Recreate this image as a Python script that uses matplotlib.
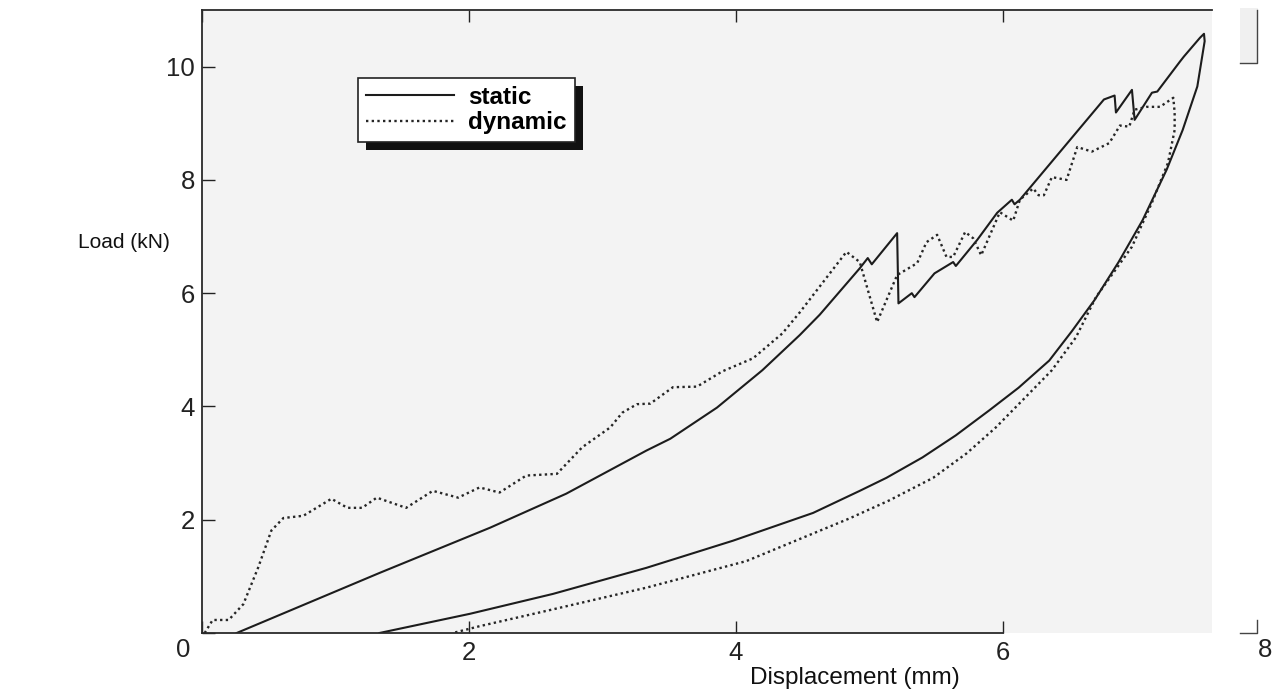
import matplotlib
matplotlib.use('Agg')
import matplotlib.pyplot as plt
from matplotlib.patches import Rectangle
from matplotlib.lines import Line2D

# ---------------- data ----------------
static_load_x = [0.26, 1.33, 2.16, 2.73, 3.33, 3.51, 3.86, 4.20, 4.48, 4.63, 4.93, 4.99,
                 5.02, 5.21, 5.22, 5.32, 5.34, 5.49, 5.63, 5.65, 5.81, 5.96, 6.07, 6.09,
                 6.13, 6.76, 6.84, 6.85, 6.97, 6.99, 7.12, 7.16, 7.33, 7.36, 7.48, 7.51]
static_load_y = [0.00, 1.06, 1.86, 2.46, 3.22, 3.43, 3.98, 4.64, 5.26, 5.62, 6.44, 6.62,
                 6.51, 7.06, 5.82, 6.00, 5.93, 6.35, 6.55, 6.48, 6.94, 7.42, 7.65, 7.57,
                 7.65, 9.42, 9.49, 9.19, 9.59, 9.06, 9.54, 9.56, 10.09, 10.18, 10.51, 10.58]

static_unload_x = [7.515, 7.46, 7.35, 7.23, 7.05, 6.87, 6.69, 6.52, 6.35, 6.12, 5.90,
                   5.65, 5.40, 5.13, 4.93, 4.58, 3.98, 3.33, 2.63, 2.01, 1.33]
static_unload_y = [10.45, 9.65, 8.88, 8.18, 7.29, 6.55, 5.88, 5.33, 4.81, 4.33, 3.93,
                   3.49, 3.10, 2.74, 2.51, 2.12, 1.63, 1.15, 0.69, 0.34, 0.00]

dynamic_load_x = [0.02, 0.08, 0.20, 0.31, 0.42, 0.52, 0.61, 0.76, 0.97, 1.09, 1.20, 1.31,
                  1.53, 1.73, 1.92, 2.08, 2.23, 2.43, 2.66, 2.85, 3.06, 3.15, 3.26, 3.36,
                  3.53, 3.71, 3.90, 4.13, 4.35, 4.48, 4.83, 4.93, 5.06, 5.21, 5.36, 5.43,
                  5.51, 5.58, 5.63, 5.72, 5.78, 5.84, 5.98, 6.08, 6.13, 6.23, 6.27, 6.31,
                  6.37, 6.48, 6.56, 6.67, 6.80, 6.88, 6.95, 6.99, 7.08, 7.18, 7.28]
dynamic_load_y = [0.00, 0.23, 0.23, 0.51, 1.15, 1.81, 2.03, 2.07, 2.37, 2.21, 2.21, 2.39,
                  2.21, 2.51, 2.39, 2.57, 2.48, 2.78, 2.81, 3.28, 3.63, 3.89, 4.04, 4.05,
                  4.34, 4.35, 4.62, 4.85, 5.29, 5.66, 6.73, 6.55, 5.49, 6.32, 6.53, 6.90,
                  7.03, 6.64, 6.64, 7.08, 6.97, 6.67, 7.43, 7.28, 7.65, 7.85, 7.73, 7.73,
                  8.05, 8.00, 8.58, 8.50, 8.65, 8.96, 8.94, 9.24, 9.29, 9.29, 9.45]

dynamic_unload_x = [7.29, 7.29, 7.24, 7.12, 6.97, 6.70, 6.55, 6.37, 6.15, 5.95, 5.73,
                    5.48, 5.15, 4.85, 4.08, 3.33, 2.58, 2.08, 1.88]
dynamic_unload_y = [9.19, 8.88, 8.30, 7.60, 6.82, 5.93, 5.22, 4.64, 4.11, 3.63, 3.17,
                    2.74, 2.34, 2.02, 1.27, 0.80, 0.39, 0.12, 0.00]

x_ticks = [0, 2, 4, 6]
x_tick_labels = ['', '2', '4', '6']
y_ticks = [0, 2, 4, 6, 8, 10]
y_tick_labels = ['', '2', '4', '6', '8', '10']
series_labels = ['static', 'dynamic']
x_label = 'Displacement (mm)'
y_label = 'Load (kN)'

# ---------------- figure ----------------
plt.rcParams['font.family'] = ['Liberation Sans', 'DejaVu Sans']

W, H = 1275, 694
fig = plt.figure(figsize=(W / 100, H / 100), dpi=100)
fig.patch.set_facecolor('white')

def fx(px):
    return px / W

def fy(py):
    return (H - py) / H

ax = fig.add_axes([fx(202), fy(633), (1212 - 202) / W, (633 - 10) / H])
ax.set_facecolor('#f3f3f3')
ax.set_xlim(0, 7.57)
ax.set_ylim(0, 11.0)

ax.plot(static_load_x + static_unload_x, static_load_y + static_unload_y,
        color='#1c1c1c', lw=1.5, label=series_labels[0], solid_joinstyle='round')
ax.plot(dynamic_load_x + dynamic_unload_x, dynamic_load_y + dynamic_unload_y,
        color='#262626', lw=1.7, ls=(0, (1, 1.4)), label=series_labels[1])

ax.set_xticks(x_ticks)
ax.set_xticklabels(x_tick_labels)
ax.set_yticks(y_ticks)
ax.set_yticklabels(y_tick_labels)
ax.tick_params(axis='x', direction='in', length=8.5, width=1.0, top=True,
               labelsize=18.5, pad=6, colors='#222222')
ax.tick_params(axis='y', direction='in', length=9.5, width=1.0,
               labelsize=18.5, pad=5, colors='#222222')

for s in ['left', 'top', 'bottom']:
    ax.spines[s].set_color('#2a2a2a')
    ax.spines[s].set_linewidth(1.3)
ax.spines['right'].set_visible(False)
ax.spines['bottom'].set_bounds(0, 6.0)

leg = ax.legend(loc='upper left', bbox_to_anchor=(0.1545, 0.891), borderaxespad=0,
                prop={'weight': 'bold', 'size': 17.5}, handlelength=3.6,
                handletextpad=0.6, borderpad=0.33, labelspacing=0.1,
                frameon=True, fancybox=False, edgecolor='#222222',
                facecolor='white', framealpha=1)
leg.get_frame().set_linewidth(1.2)
leg.set_zorder(6)

# axis labels and corner tick labels
fig.text(fx(78), fy(243), y_label, fontsize=15, ha='left', va='center', color='#111111')
fig.text(fx(855), fy(678), x_label, fontsize=17.5, ha='center', va='center', color='#111111')
fig.text(fx(183), fy(650), '0', fontsize=18.5, ha='center', va='center', color='#222222')
fig.text(fx(1265), fy(650), '8', fontsize=18.5, ha='center', va='center', color='#222222')

# fragments of the scanned frame on the right
fig.add_artist(Rectangle((fx(1240), fy(63)), fx(1258) - fx(1240), fy(8) - fy(63),
                         transform=fig.transFigure, facecolor='#f0f0f0', edgecolor='none'))
fig.add_artist(Line2D([fx(1240), fx(1257), fx(1257)], [fy(63), fy(63), fy(10)],
                      transform=fig.transFigure, color='#444444', lw=1.0))
fig.add_artist(Line2D([fx(1240), fx(1257), fx(1257)], [fy(633), fy(633), fy(620)],
                      transform=fig.transFigure, color='#444444', lw=1.0))

# legend drop shadow
fig.canvas.draw()
bb = leg.get_window_extent(fig.canvas.get_renderer()).transformed(fig.transFigure.inverted())
shadow = Rectangle((bb.x0 + 8 / W, bb.y0 - 8 / H), bb.width, bb.height,
                   transform=fig.transFigure, facecolor='#111111', edgecolor='none',
                   zorder=5.5, clip_on=False)
ax.add_artist(shadow)

fig.savefig('out.png', dpi=100, facecolor=fig.get_facecolor())
